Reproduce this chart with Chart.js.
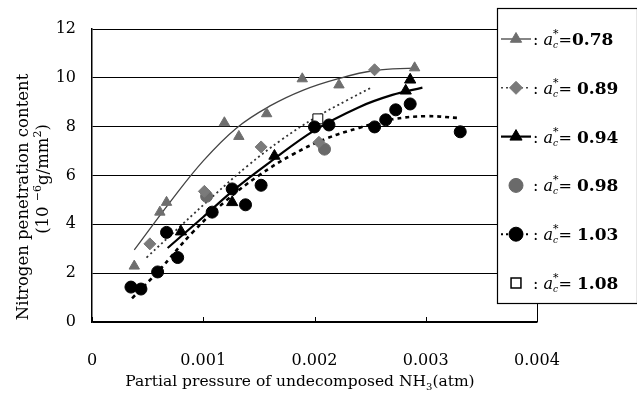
<!DOCTYPE html>
<html>
<head>
<meta charset="utf-8">
<script src="https://cdn.jsdelivr.net/npm/chart.js@4.4.1/dist/chart.umd.min.js"></script>
<style>
  html, body { margin: 0; padding: 0; background: #fff; }
  #wrap { width: 637px; height: 394px; position: relative; }
</style>
</head>
<body>
<div id="wrap"><canvas id="chart" width="637" height="394"></canvas></div>
<script>
// measured points: partial pressure (atm) vs nitrogen content (1e-6 g/mm2)
const p078 = [0.00038, 0.00061, 0.00067, 0.00119, 0.00132, 0.00157, 0.00189, 0.00222, 0.0029];
const n078 = [2.29, 4.5, 4.9, 8.16, 7.6, 8.53, 9.96, 9.71, 10.41];

const p089 = [0.00052, 0.00101, 0.00152, 0.00204, 0.00254];
const n089 = [3.2, 5.35, 7.17, 7.36, 10.33];

const p094 = [0.0008, 0.00126, 0.00164, 0.00282, 0.00286];
const n094 = [3.7, 4.9, 6.8, 9.47, 9.92];

const p098 = [0.00103, 0.00209];
const n098 = [5.15, 7.08];

const p103 = [0.00035, 0.00044, 0.00059, 0.00067, 0.00077, 0.00108, 0.00126, 0.00138, 0.00152,
              0.002, 0.00213, 0.00254, 0.00264, 0.00273, 0.00286, 0.00331];
const n103 = [1.43, 1.35, 2.05, 3.67, 2.64, 4.5, 5.45, 4.8, 5.6,
              7.99, 8.07, 7.99, 8.28, 8.69, 8.93, 7.79];

const p108 = [0.00203];
const n108 = [8.32];

// trend curves
const fitP078 = [0.00038, 0.0007, 0.001, 0.0013, 0.0016, 0.0019, 0.0022, 0.00254, 0.0029];
const fitN078 = [2.95, 4.9, 6.6, 7.95, 8.85, 9.5, 9.95, 10.3, 10.4];

const fitP089 = [0.00049, 0.0008, 0.0011, 0.0014, 0.0017, 0.002, 0.0023, 0.00251];
const fitN089 = [2.64, 3.95, 5.2, 6.4, 7.45, 8.35, 9.1, 9.6];

const fitP094 = [0.00068, 0.001, 0.0013, 0.0016, 0.002, 0.0024, 0.0027, 0.00297];
const fitN094 = [3.03, 4.3, 5.5, 6.55, 7.85, 8.8, 9.3, 9.6];

const fitP103 = [0.00036, 0.0006, 0.0009, 0.0012, 0.0015, 0.0018, 0.0021, 0.0024, 0.0027, 0.003, 0.00328];
const fitN103 = [0.97, 2.1, 3.65, 4.95, 6.0, 6.85, 7.5, 7.95, 8.3, 8.43, 8.36];

const xTicks = [0, 0.001, 0.002, 0.003, 0.004];
const legendLabels = ['0.78', '0.89', '0.94', '0.98', '1.03', '1.08'];

const pts = (xs, ys) => xs.map((v, i) => ({ x: v, y: ys[i] }));

function markers(xs, ys, style, fill, radius, border) {
    return {
        data: pts(xs, ys), showLine: false, order: 1,
        pointStyle: style, pointRadius: radius,
        pointBackgroundColor: fill, pointBorderColor: border || fill, pointBorderWidth: 1
    };
}

function curve(xs, ys, color, width, dash) {
    return {
        data: pts(xs, ys), showLine: true, order: 2, pointRadius: 0,
        borderColor: color, borderWidth: width, borderDash: dash,
        tension: 0.4
    };
}

// legend rows: line sample + marker
const legendRows = [
    { line: ['#444', 1.3, []], style: 'triangle', fill: '#6e6e6e', r: 6.5 },
    { line: ['#444', 1.5, [2, 3]], style: 'rectRot', fill: '#7a7a7a', r: 6.5 },
    { line: ['#000', 2.2, []], style: 'triangle', fill: '#000', r: 7 },
    { line: null, style: 'circle', fill: '#6a6a6a', r: 7 },
    { line: ['#000', 2, [2, 3]], style: 'circle', fill: '#000', r: 7 },
    { line: null, style: 'rect', fill: '#fff', r: 7, border: '#000' }
];

const serif = '"DejaVu Serif", "Liberation Serif", serif';

function runWidth(ctx, runs) {
    let w = 0;
    for (const r of runs) { ctx.font = r.font; if (!r.stack) w += ctx.measureText(r.text).width; }
    return w;
}

function drawRuns(ctx, runs, x, y) {
    let cx = x;
    for (const r of runs) {
        ctx.font = r.font;
        ctx.fillText(r.text, cx, y + (r.dy || 0));
        if (!r.stack) cx += ctx.measureText(r.text).width;
    }
    return cx;
}

const decor = {
    id: 'decor',
    afterDraw(chart) {
        const { ctx, chartArea: a, scales: { x } } = chart;
        ctx.save();
        ctx.strokeStyle = '#000';
        ctx.fillStyle = '#000';
        ctx.lineWidth = 1;

        // small inward ticks on the x axis and the right frame
        ctx.beginPath();
        for (const t of x.ticks) {
            const px = Math.round(x.getPixelForValue(t.value)) + 0.5;
            ctx.moveTo(px, a.bottom);
            ctx.lineTo(px, a.bottom - 5);
        }
        ctx.moveTo(a.right + 0.5, a.top);
        ctx.lineTo(a.right + 0.5, a.bottom);
        ctx.stroke();

        // axis titles
        ctx.textBaseline = 'alphabetic';
        const xt = [
            { text: 'Partial pressure of undecomposed NH', font: '15.5px ' + serif },
            { text: '3', font: '10px ' + serif, dy: 4 },
            { text: '(atm)', font: '15.5px ' + serif }
        ];
        drawRuns(ctx, xt, 300 - runWidth(ctx, xt) / 2, 386);

        ctx.save();
        ctx.rotate(-Math.PI / 2);
        const yt1 = [{ text: 'Nitrogen penetration content', font: '16.5px ' + serif }];
        drawRuns(ctx, yt1, -197 - runWidth(ctx, yt1) / 2, 28);
        const yt2 = [
            { text: '(10 ', font: '16.5px ' + serif },
            { text: '\u2212', font: '11px ' + serif, dy: -7 },
            { text: '6', font: '11px ' + serif, dy: -7 },
            { text: 'g/mm', font: '16.5px ' + serif },
            { text: '2', font: '11px ' + serif, dy: -7 },
            { text: ')', font: '16.5px ' + serif }
        ];
        drawRuns(ctx, yt2, -179 - runWidth(ctx, yt2) / 2, 48);
        ctx.restore();

        // legend box laid over the plot
        const bx = 497.5, by = 8.5, bw = 140, bh = 295;
        ctx.fillStyle = '#fff';
        ctx.fillRect(bx, by, bw, bh);
        ctx.lineWidth = 1.2;
        ctx.strokeRect(bx, by, bw, bh);

        legendRows.forEach((row, i) => {
            const cy = 39 + i * 48.8;
            if (row.line) {
                ctx.save();
                ctx.strokeStyle = row.line[0];
                ctx.lineWidth = row.line[1];
                ctx.setLineDash(row.line[2]);
                ctx.beginPath();
                ctx.moveTo(501, cy);
                ctx.lineTo(531, cy);
                ctx.stroke();
                ctx.restore();
            }
            ctx.fillStyle = row.fill;
            ctx.strokeStyle = row.border || row.fill;
            ctx.lineWidth = row.border ? 1.5 : 1;
            Chart.helpers.drawPoint(ctx, { pointStyle: row.style, radius: row.r, rotation: 0, borderWidth: ctx.lineWidth }, 516, cy);

            ctx.fillStyle = '#000';
            const base = cy + 6;
            const runs = [
                { text: ':', font: '16px ' + serif },
                { text: '  ', font: '8px ' + serif },
                { text: 'a', font: 'italic 16px ' + serif },
                { text: 'c', font: 'italic 9px ' + serif, dy: 3, stack: true },
                { text: '*', font: '11px ' + serif, dy: -8 },
                { text: i === 0 ? '=' : '= ', font: '16px ' + serif },
                { text: legendLabels[i], font: 'bold 17px ' + serif }
            ];
            drawRuns(ctx, runs, 533, base);
        });
        ctx.restore();
    }
};

new Chart(document.getElementById('chart'), {
    type: 'scatter',
    data: {
        datasets: [
            markers(p078, n078, 'triangle', '#6e6e6e', 6),
            markers(p089, n089, 'rectRot', '#7a7a7a', 6),
            markers(p094, n094, 'triangle', '#000', 6.5),
            markers(p098, n098, 'circle', '#6a6a6a', 6),
            markers(p103, n103, 'circle', '#000', 6),
            markers(p108, n108, 'rect', '#fff', 7, '#000'),
            curve(fitP078, fitN078, '#444', 1.3, []),
            curve(fitP089, fitN089, '#333', 1.8, [2, 3]),
            curve(fitP094, fitN094, '#000', 2.2, []),
            curve(fitP103, fitN103, '#000', 2.6, [4, 4])
        ]
    },
    options: {
        responsive: false,
        animation: false,
        layout: { padding: { left: 0, top: 29, right: 100, bottom: 0 } },
        plugins: { legend: { display: false }, tooltip: { enabled: false } },
        scales: {
            x: {
                type: 'linear', min: 0, max: 0.004,
                afterFit: s => { s.height = 72; },
                afterBuildTicks: s => { s.ticks = xTicks.map(v => ({ value: v })); },
                grid: { display: false },
                border: { display: true, color: '#000', width: 1.5 },
                ticks: {
                    color: '#000', padding: 21,
                    font: { family: serif, size: 16 },
                    callback: v => v === 0 ? '0' : v.toFixed(3)
                }
            },
            y: {
                min: 0, max: 12,
                afterFit: s => { s.width = 92; },
                grid: { color: '#000', lineWidth: 1, drawTicks: false },
                border: { display: true, color: '#000', width: 1.5 },
                ticks: {
                    stepSize: 2, color: '#000', padding: 16,
                    font: { family: serif, size: 16 }
                }
            }
        }
    },
    plugins: [decor]
});
</script>
</body>
</html>
